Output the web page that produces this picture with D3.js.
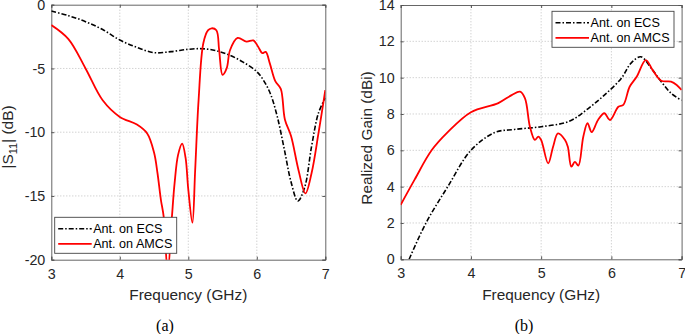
<!DOCTYPE html>
<html>
<head>
<meta charset="utf-8">
<script src="https://cdn.jsdelivr.net/npm/d3@7"></script>
<style>
  body { margin: 0; background: #fff; }
  svg { display: block; font-family: "Liberation Sans", Arial, sans-serif; }
  .grid line { stroke: #b0b0b0; stroke-width: 0.8; stroke-dasharray: 1,2; }
  .tick text { fill: #262626; font-size: 14.3px; font-family: "Liberation Sans", Arial, sans-serif; }
</style>
</head>
<body>
<svg id="chart" width="685" height="334"></svg>
<script>
// (a) |S11| data
const s11FreqEcs = [3, 3.25, 3.5, 3.75, 4, 4.25, 4.5, 4.75, 5, 5.2, 5.4, 5.6, 5.8, 6, 6.1, 6.2, 6.3, 6.4, 6.5, 6.6, 6.7, 6.8, 6.9, 7];
const s11Ecs = [-0.5, -0.86, -1.33, -1.95, -2.77, -3.35, -3.76, -3.68, -3.5, -3.45, -3.6, -3.95, -4.5, -5.25, -5.95, -7.0, -8.8, -11.3, -13.9, -15.4, -14.3, -11.1, -8.5, -7.3];

const s11FreqAmcs = [3, 3.25, 3.5, 3.75, 4, 4.25, 4.4, 4.5, 4.55, 4.6, 4.64, 4.7, 4.76, 4.8, 4.85, 4.91, 4.96, 5.0, 5.06, 5.1, 5.15, 5.22, 5.29, 5.34, 5.41, 5.45, 5.5, 5.56, 5.61, 5.72, 5.85, 5.95, 6.02, 6.08, 6.13, 6.19, 6.27, 6.35, 6.41, 6.5, 6.61, 6.71, 6.8, 6.9, 7];
const s11Amcs = [-1.6, -2.7, -5.0, -7.5, -8.8, -9.4, -10.1, -11.6, -13.2, -15.3, -16.6, -21, -16.7, -14.0, -11.8, -10.9, -12.0, -14.5, -17.1, -13.0, -7.5, -3.0, -2.0, -1.85, -2.0, -3.55, -5.5, -5.0, -3.55, -2.6, -2.9, -2.8, -3.3, -3.8, -3.7, -4.6, -6.0, -6.6, -9.0, -10.3, -13.0, -14.8, -13.2, -10.1, -6.7];

// (b) realized gain data
const gainFreqEcs = [3.12, 3.36, 3.67, 4, 4.34, 4.62, 5, 5.4, 5.67, 5.9, 6.14, 6.28, 6.42, 6.57, 6.71, 6.85, 7];
const gainEcs = [0, 2.0, 4.0, 6.0, 6.98, 7.15, 7.3, 7.6, 8.3, 9.04, 9.96, 10.8, 11.15, 10.5, 9.78, 9.14, 8.75];

const gainFreqAmcs = [3, 3.2, 3.44, 3.67, 4, 4.39, 4.58, 4.7, 4.77, 4.84, 4.91, 4.96, 5.0, 5.1, 5.17, 5.24, 5.34, 5.38, 5.43, 5.48, 5.53, 5.6, 5.66, 5.72, 5.81, 5.9, 5.98, 6.1, 6.17, 6.26, 6.36, 6.49, 6.59, 6.71, 6.85, 6.93, 7];
const gainAmcs = [3.0, 4.4, 6.0, 7.0, 8.1, 8.6, 9.04, 9.23, 8.86, 7.3, 6.57, 6.75, 6.57, 5.28, 6.2, 6.93, 6.57, 6.2, 5.1, 5.36, 5.16, 6.75, 7.49, 7.0, 7.67, 8.04, 7.67, 8.4, 8.5, 9.5, 10.05, 10.97, 10.4, 9.83, 9.78, 9.6, 9.32];

const freqTicks = [3, 4, 5, 6, 7];
const s11Ticks = [0, -5, -10, -15, -20];
const gainTicks = [0, 2, 4, 6, 8, 10, 12, 14];
const seriesNames = ["Ant. on ECS", "Ant. on AMCS"];

const svg = d3.select('#chart');
const ecsStyle = { color: '#000', dash: '5,2,1.5,2', width: 1.6 };
const amcsStyle = { color: '#ff0000', dash: null, width: 1.8 };

function drawPanel(opt) {
  const g = svg.append('g');
  const x = d3.scaleLinear().domain([3, 7]).range(opt.xRange);
  const y = d3.scaleLinear().domain(opt.yDomain).range(opt.yRange);
  const [x0, x1] = opt.xRange, [yb, yt] = opt.yRange;

  // grid
  g.append('g').attr('class', 'grid')
    .selectAll('line').data(freqTicks.slice(1, -1)).enter().append('line')
    .attr('x1', d => x(d)).attr('x2', d => x(d)).attr('y1', yb).attr('y2', yt);
  g.append('g').attr('class', 'grid')
    .selectAll('line').data(opt.yTicks.filter(d => d !== opt.yDomain[0] && d !== opt.yDomain[1])).enter().append('line')
    .attr('x1', x0).attr('x2', x1).attr('y1', d => y(d)).attr('y2', d => y(d));

  // axes
  g.append('g').attr('transform', `translate(0,${yb})`)
    .call(d3.axisBottom(x).tickValues(freqTicks).tickSize(-3).tickPadding(9).tickFormat(d3.format('d')));
  g.append('g').attr('transform', `translate(${x0},0)`)
    .call(d3.axisLeft(y).tickValues(opt.yTicks).tickSize(-3).tickPadding(6)
      .tickFormat(d => d < 0 ? '-' + Math.abs(d) : String(d)));
  g.append('g').attr('transform', `translate(0,${yt})`)
    .call(d3.axisTop(x).tickValues(freqTicks).tickSize(-3).tickFormat(''));
  g.append('g').attr('transform', `translate(${x1},0)`)
    .call(d3.axisRight(y).tickValues(opt.yTicks).tickSize(-3).tickFormat(''));
  g.selectAll('.domain').attr('stroke', '#555').attr('stroke-width', 0.9);
  g.selectAll('.tick line').attr('stroke', '#555');

  // curves
  const clipId = 'clip' + opt.id;
  g.append('clipPath').attr('id', clipId).append('rect')
    .attr('x', x0).attr('y', yt).attr('width', x1 - x0).attr('height', yb - yt);
  const line = d3.line().x(d => x(d[0])).y(d => y(d[1])).curve(d3.curveCatmullRom.alpha(0.5));
  opt.series.forEach(s => {
    g.append('path')
      .datum(s.f.map((f, i) => [f, s.v[i]]))
      .attr('clip-path', `url(#${clipId})`)
      .attr('fill', 'none')
      .attr('stroke', s.style.color)
      .attr('stroke-width', s.style.width)
      .attr('stroke-dasharray', s.style.dash)
      .attr('d', line);
  });

  // labels
  g.append('text').attr('x', (x0 + x1) / 2).attr('y', 300)
    .attr('text-anchor', 'middle').attr('font-size', 15.4).attr('fill', '#262626')
    .text('Frequency (GHz)');
  const yl = g.append('text')
    .attr('transform', `translate(${opt.yLabelX},${opt.yLabelY}) rotate(-90)`)
    .attr('text-anchor', 'middle').attr('font-size', 15.4).attr('fill', '#262626');
  opt.yLabel(yl);
  g.append('text').attr('x', opt.capX).attr('y', 331)
    .attr('text-anchor', 'middle').attr('font-size', 16)
    .attr('font-family', '"Liberation Serif", "Times New Roman", serif')
    .text(opt.caption);

  // legend
  const lg = g.append('g').attr('transform', `translate(${opt.legend[0]},${opt.legend[1]})`);
  lg.append('rect').attr('width', 122).attr('height', 36)
    .attr('fill', '#fff').attr('stroke', '#444').attr('stroke-width', 0.9);
  opt.series.forEach((s, i) => {
    const ly = 11.5 + i * 15;
    lg.append('line').attr('x1', 3.5).attr('x2', 37).attr('y1', ly).attr('y2', ly)
      .attr('stroke', s.style.color).attr('stroke-width', s.style.width)
      .attr('stroke-dasharray', s.style.dash);
    lg.append('text').attr('x', 38.5).attr('y', ly + 4.5)
      .attr('font-size', 12.6).attr('fill', '#000').text(seriesNames[i]);
  });
}

drawPanel({
  id: 'a', xRange: [51.3, 325.3], yDomain: [-20, 0], yRange: [259.7, 4.7], yTicks: s11Ticks,
  series: [{ f: s11FreqEcs, v: s11Ecs, style: ecsStyle }, { f: s11FreqAmcs, v: s11Amcs, style: amcsStyle }],
  yLabelX: 13, yLabelY: 137,
  yLabel: t => {
    t.append('tspan').text('|S');
    t.append('tspan').attr('font-size', 11).attr('dy', 4).text('11');
    t.append('tspan').attr('dy', -4).text('| (dB)');
  },
  capX: 165, caption: '(a)', legend: [54.7, 217.3]
});

drawPanel({
  id: 'b', xRange: [400.7, 681.6], yDomain: [0, 14], yRange: [259.3, 5], yTicks: gainTicks,
  series: [{ f: gainFreqEcs, v: gainEcs, style: ecsStyle }, { f: gainFreqAmcs, v: gainAmcs, style: amcsStyle }],
  yLabelX: 372, yLabelY: 138,
  yLabel: t => t.text('Realized Gain (dBi)'),
  capX: 524, caption: '(b)', legend: [552, 11.3]
});
</script>
</body>
</html>
